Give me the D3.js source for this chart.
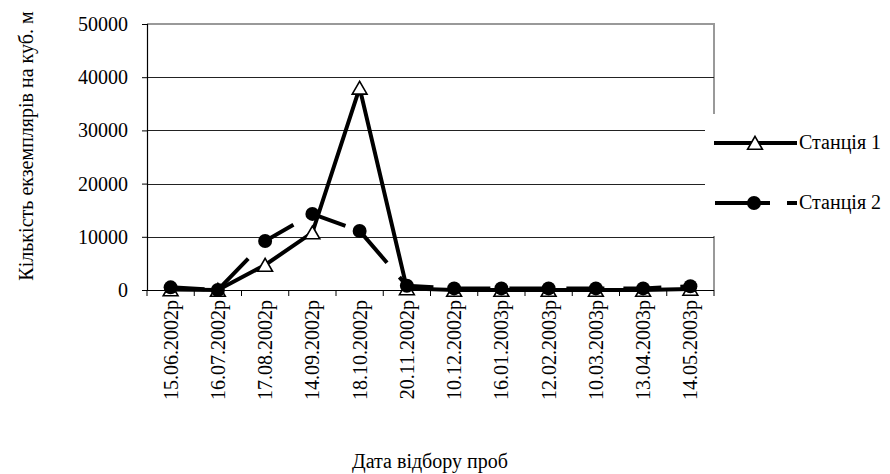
<!DOCTYPE html>
<html>
<head>
<meta charset="utf-8">
<script src="https://cdn.jsdelivr.net/npm/d3@7"></script>
<style>
  html, body { margin: 0; padding: 0; background: #fff; }
  svg { display: block; }
</style>
</head>
<body>
<svg id="chart" width="890" height="474"></svg>
<script>
// Sampling dates
const dates = ["15.06.2002р", "16.07.2002р", "17.08.2002р", "14.09.2002р", "18.10.2002р", "20.11.2002р",
               "10.12.2002р", "16.01.2003р", "12.02.2003р", "10.03.2003р", "13.04.2003р", "14.05.2003р"];
// Specimens per cubic metre
const station1 = [100, 0, 4700, 10800, 38000, 300, 0, 0, 0, 0, 0, 200];
const station2 = [500, 0, 9200, 14300, 11100, 800, 300, 300, 300, 300, 300, 700];
const seriesNames = ["Станція 1", "Станція 2"];
const yTicks = [0, 10000, 20000, 30000, 40000, 50000];

const FONT = "Liberation Serif";
const FS = 20;
const serif = sel => sel.style("font-family", FONT).style("font-size", FS + "px").attr("fill", "#000");

const svg = d3.select("#chart");
const plot = { left: 147, right: 714, top: 24, bottom: 290 };

const x = d3.scaleBand().domain(dates).range([plot.left, plot.right]);
const y = d3.scaleLinear().domain([0, 50000]).range([plot.bottom, plot.top]);
const cx = d => x(d) + x.bandwidth() / 2;

// Plot frame (top and right, grey)
svg.append("path")
  .attr("d", `M${plot.left},${plot.top}H${plot.right}V${plot.bottom}`)
  .attr("fill", "none").attr("stroke", "#999").attr("stroke-width", 2);

// Horizontal gridlines
svg.append("g").selectAll("line").data(yTicks.filter(t => t > 0 && t < 50000)).join("line")
  .attr("x1", plot.left).attr("x2", plot.right)
  .attr("y1", d => Math.round(y(d)) + 0.5).attr("y2", d => Math.round(y(d)) + 0.5)
  .attr("stroke", "#222").attr("stroke-width", 1);

// Y axis
const yAxis = svg.append("g").attr("transform", `translate(${plot.left},0)`)
  .call(d3.axisLeft(y).tickValues(yTicks).tickSize(5).tickPadding(14).tickFormat(d3.format("d")));
yAxis.select(".domain").attr("stroke", "#000").attr("stroke-width", 1.2);
yAxis.selectAll(".tick line").attr("stroke", "#000");
yAxis.selectAll("text").call(serif);

// X axis with ticks at category boundaries
const xAxis = svg.append("g").attr("transform", `translate(0,${plot.bottom})`);
xAxis.append("line").attr("x1", plot.left).attr("x2", plot.right)
  .attr("y1", 0.5).attr("y2", 0.5).attr("stroke", "#000").attr("stroke-width", 1.2);
xAxis.selectAll("line.tk").data(d3.range(dates.length + 1)).join("line").attr("class", "tk")
  .attr("x1", i => plot.left + i * x.bandwidth()).attr("x2", i => plot.left + i * x.bandwidth())
  .attr("y1", 0).attr("y2", 6).attr("stroke", "#000");
xAxis.selectAll("text").data(dates).join("text")
  .attr("transform", d => `translate(${cx(d) + 7},${10}) rotate(-90)`)
  .attr("text-anchor", "end")
  .call(serif)
  .text(d => d);

// Station 1 line: solid
const line = d3.line().x((d, i) => cx(dates[i])).y(d => y(d));
svg.append("path").datum(station1).attr("d", line)
  .attr("fill", "none").attr("stroke", "#000").attr("stroke-width", 4).attr("stroke-linejoin", "miter");

// Station 2 line: long dash
svg.append("path").datum(station2).attr("d", line)
  .attr("fill", "none").attr("stroke", "#000").attr("stroke-width", 4)
  .attr("stroke-dasharray", "38,19").attr("stroke-dashoffset", 4);

// Triangle markers (Station 1), shifted so the box is centred on the point
const tri = d3.symbol().type(d3.symbolTriangle).size(95);
svg.append("g").selectAll("path").data(station1).join("path")
  .attr("d", tri)
  .attr("transform", (d, i) => `translate(${cx(dates[i])},${y(d) + 2})`)
  .attr("fill", "#fff").attr("stroke", "#000").attr("stroke-width", 1.6);

// Circle markers (Station 2)
svg.append("g").selectAll("circle").data(station2).join("circle")
  .attr("cx", (d, i) => cx(dates[i])).attr("cy", d => y(d))
  .attr("r", 7).attr("fill", "#000");

// Legend
const legend = svg.append("g");
legend.append("rect").attr("x", 705).attr("y", 114).attr("width", 185).attr("height", 122).attr("fill", "#fff");
const legY = [143, 203];
// Station 1 entry
legend.append("line").attr("x1", 714).attr("x2", 797).attr("y1", legY[0]).attr("y2", legY[0])
  .attr("stroke", "#000").attr("stroke-width", 4);
legend.append("path").attr("d", tri).attr("transform", `translate(755,${legY[0] + 2})`)
  .attr("fill", "#fff").attr("stroke", "#000").attr("stroke-width", 1.6);
// Station 2 entry
legend.append("line").attr("x1", 715).attr("x2", 797).attr("y1", legY[1]).attr("y2", legY[1])
  .attr("stroke", "#000").attr("stroke-width", 4).attr("stroke-dasharray", "55,17");
legend.append("circle").attr("cx", 754).attr("cy", legY[1]).attr("r", 7).attr("fill", "#000");
legend.selectAll("text").data(seriesNames).join("text")
  .attr("x", 799).attr("y", (d, i) => legY[i] + 6)
  .call(serif).text(d => d);

// Axis titles
svg.append("text")
  .attr("transform", "translate(33,146) rotate(-90)")
  .attr("text-anchor", "middle").call(serif)
  .text("Кількість екземплярів на куб. м");
svg.append("text")
  .attr("x", 430).attr("y", 468)
  .attr("text-anchor", "middle").call(serif)
  .text("Дата відбору проб");
</script>
</body>
</html>
